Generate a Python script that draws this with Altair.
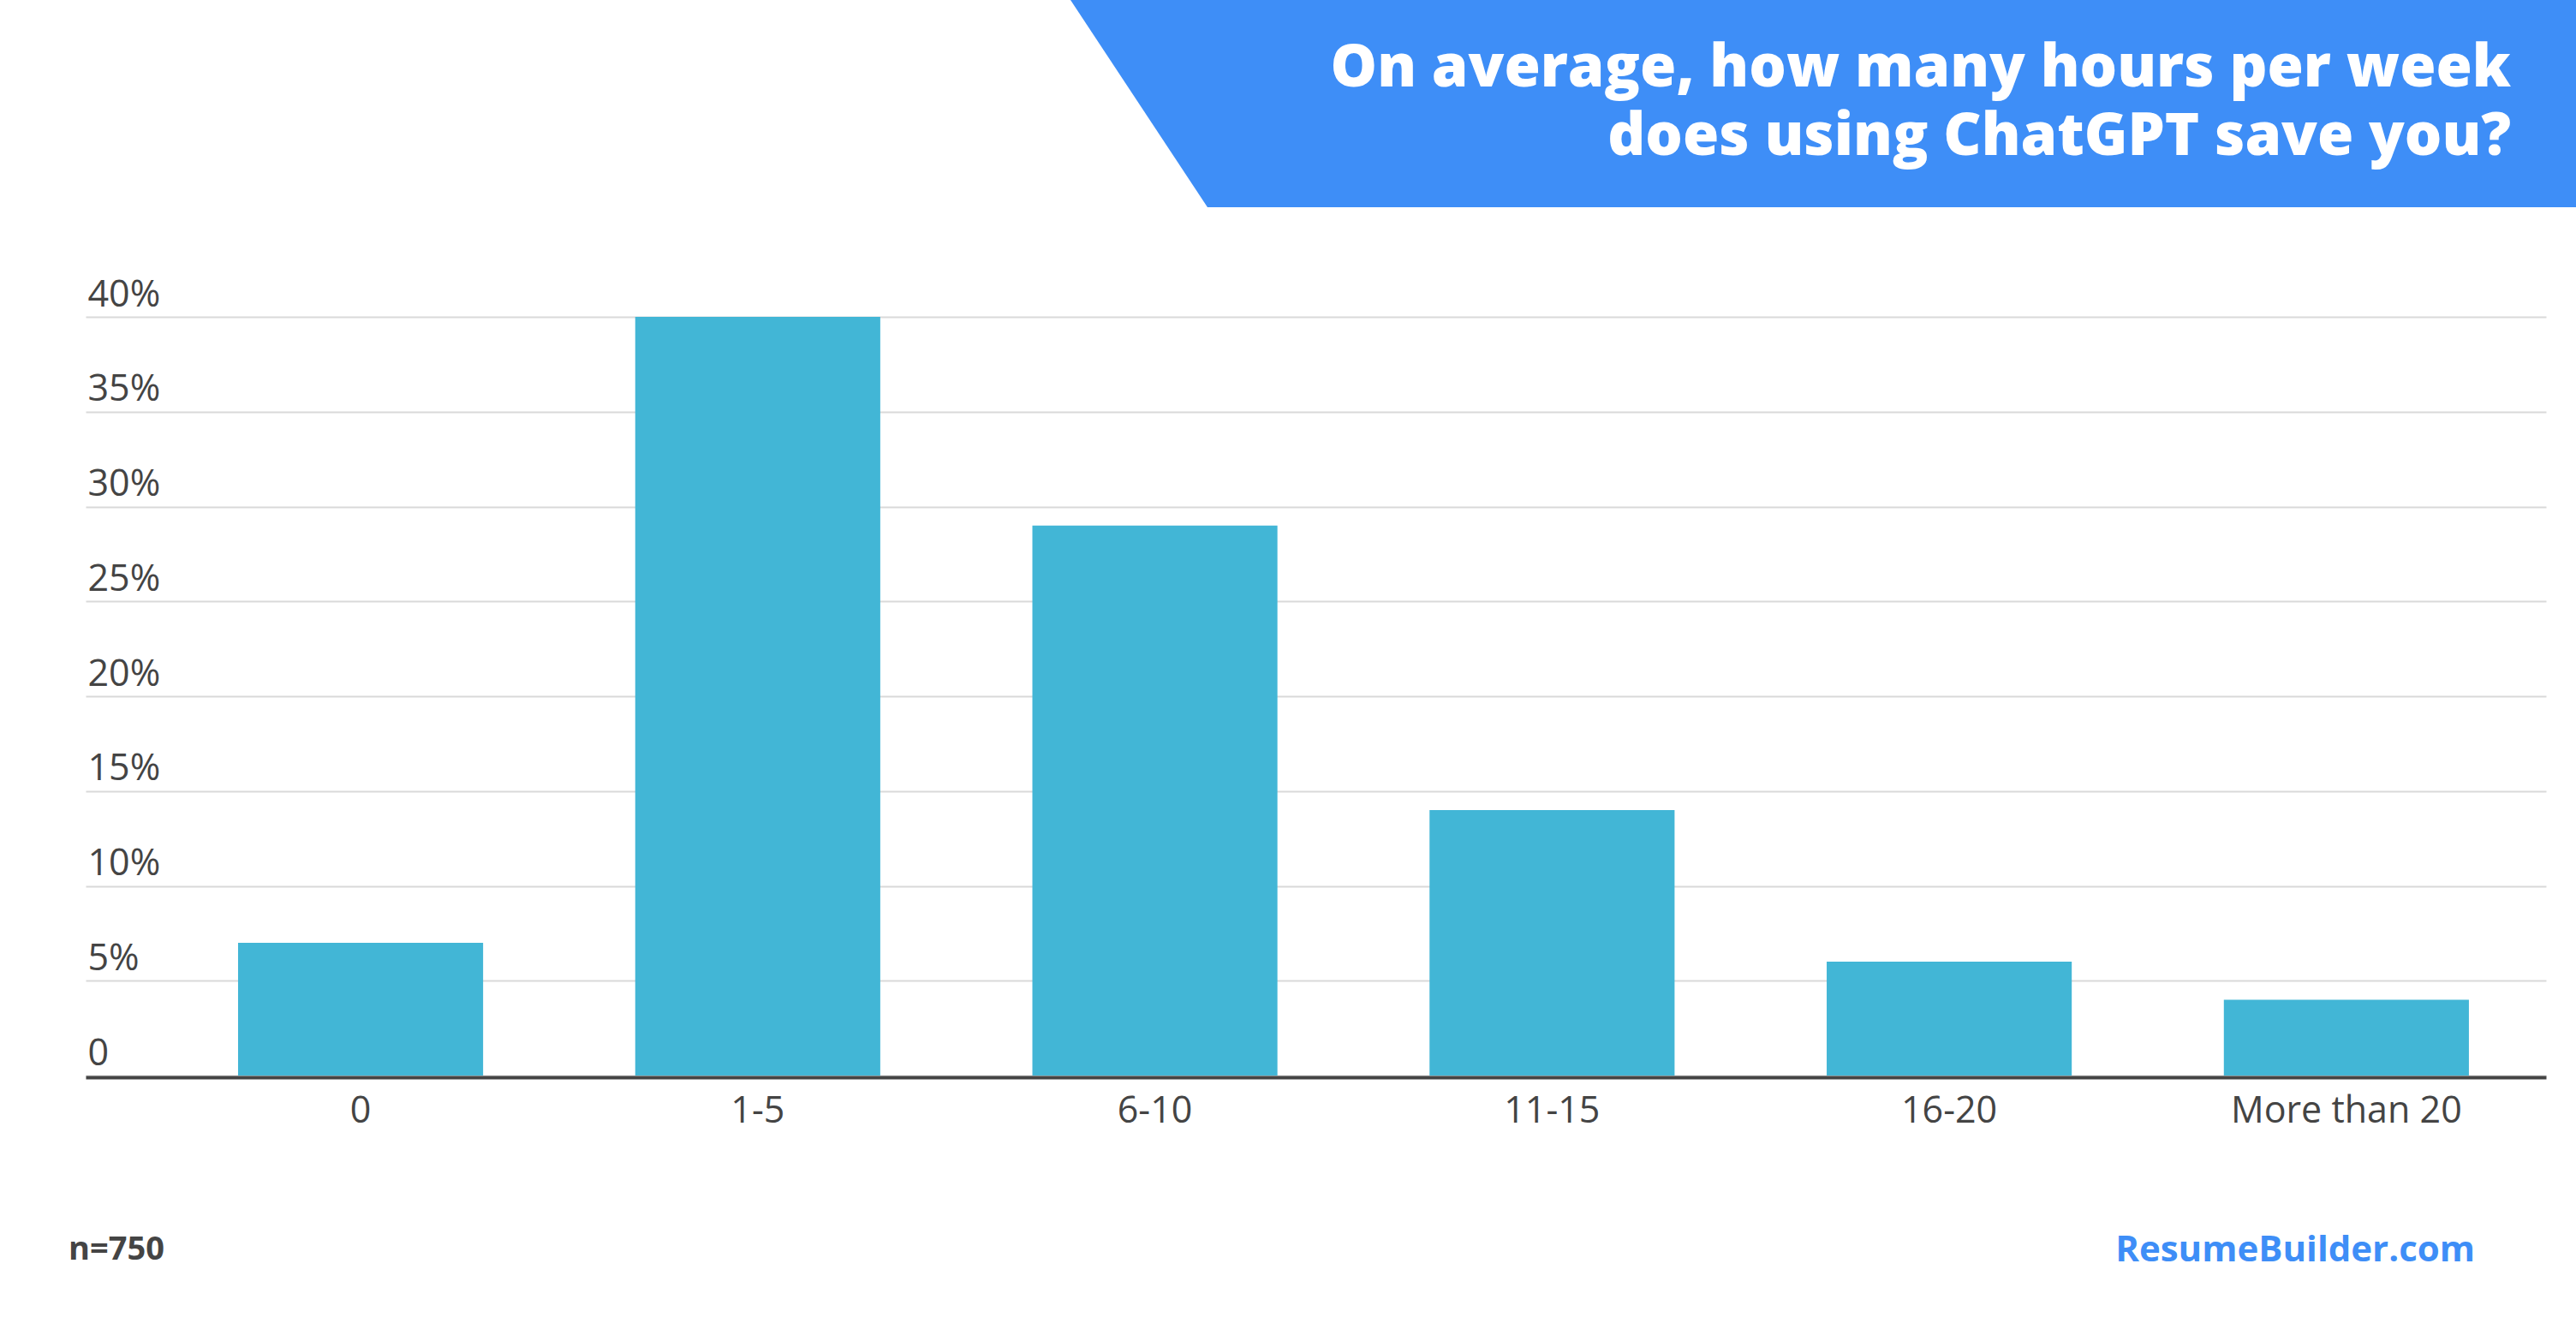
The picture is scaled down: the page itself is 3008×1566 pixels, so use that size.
import altair as alt
import pandas as pd

# ---- data ----
categories = ["0", "1-5", "6-10", "11-15", "16-20", "More than 20"]
shares = [7, 40, 29, 14, 6, 4]
y_ticks = [0, 5, 10, 15, 20, 25, 30, 35, 40]
title_lines = ["On average, how many hours per week", "does using ChatGPT save you?"]
sample_note = ["n=750"]
brand = ["ResumeBuilder.com"]

BAR = "#42B6D6"
BLUE = "#3E8EF7"
TXT = "#444444"

df = pd.DataFrame({"cat": categories, "pct": shares})

PLOT_W, PLOT_H = 2873, 886

bars = alt.Chart(df).mark_bar(color=BAR).encode(
    x=alt.X(
        "cat:N",
        sort=categories,
        scale=alt.Scale(paddingInner=0.383, paddingOuter=0.289, align=0.664),
        axis=alt.Axis(
            title=None,
            labelAngle=0,
            labelFont="Open Sans",
            labelFontSize=43,
            labelColor=TXT,
            labelPadding=18,
            labelLimit=0,
            offset=2,
            ticks=False,
            tickSize=0,
            domainColor=TXT,
            domainWidth=4,
            grid=False,
            zindex=1,
        ),
    ),
    y=alt.Y(
        "pct:Q",
        scale=alt.Scale(domain=[0, 40], nice=False),
        axis=alt.Axis(
            title=None,
            values=y_ticks,
            labelExpr="datum.value == 0 ? '0' : datum.value + '%'",
            labelAlign="left",
            labelBaseline="alphabetic",
            labelPadding=-2,
            labelOffset=-13,
            labelFont="Open Sans",
            labelFontSize=43,
            labelColor=TXT,
            ticks=False,
            tickSize=0,
            domain=False,
            grid=True,
            gridColor="#D9D9D9",
            gridWidth=2,
        ),
    ),
)

one = pd.DataFrame({"k": [0]})

# title banner (decorative trapezoid drawn as a custom symbol)
banner_path = "M-1,-0.1377L1,-0.1377L1,0.1377L-0.818,0.1377Z"
banner = alt.Chart(one).mark_point(
    shape=banner_path, size=1758 * 1758, filled=True, color=BLUE, opacity=1, strokeWidth=0
).encode(x=alt.value(2029), y=alt.value(-249))

title_txt = alt.Chart(pd.DataFrame({"t": ["\n".join(title_lines)]})).mark_text(
    align="right", baseline="alphabetic", font="Open Sans", fontWeight=800, fontSize=68.5,
    color="white", lineBreak="\n", lineHeight=80,
).encode(text="t:N", x=alt.value(2832), y=alt.value(-269))

note = alt.Chart(pd.DataFrame({"t": sample_note})).mark_text(
    align="left", baseline="middle", font="Open Sans", fontWeight="bold", fontSize=38, color=TXT
).encode(text="t:N", x=alt.value(-20), y=alt.value(1090))

brand_txt = alt.Chart(pd.DataFrame({"t": brand})).mark_text(
    align="right", baseline="middle", font="Open Sans", fontWeight="bold", fontSize=42, color=BLUE
).encode(text="t:N", x=alt.value(2790), y=alt.value(1090))

chart = alt.layer(banner, title_txt, bars, note, brand_txt).properties(
    width=PLOT_W,
    height=PLOT_H,
    padding={"left": 100, "top": 370, "right": 35, "bottom": 310},
    autosize=alt.AutoSizeParams(type="none"),
    background="white",
).configure_view(stroke=None)

chart.save("out.html", embed_options={"renderer": "svg", "actions": False})
